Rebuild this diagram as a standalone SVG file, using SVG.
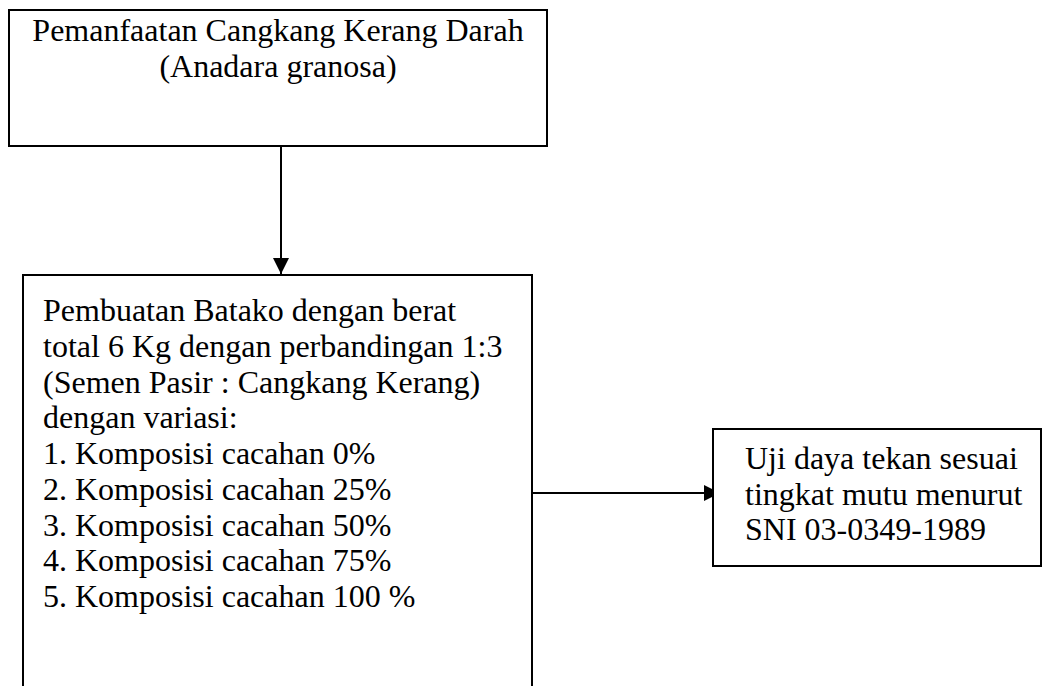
<svg xmlns="http://www.w3.org/2000/svg" width="1043" height="686" viewBox="0 0 1043 686">
<style>
.box{fill:#fff;stroke:#000;stroke-width:2}
.t{font-family:"Liberation Serif","Times New Roman",serif;font-size:32px;fill:#000}
.c{text-anchor:middle}
.ln{stroke:#000;stroke-width:2;fill:none}
</style>
<defs>
<marker id="ah" markerUnits="userSpaceOnUse" markerWidth="16" markerHeight="16" refX="16" refY="8" orient="auto">
<path d="M0,0 L16,8 L0,16 Z" fill="#000"/>
</marker>
</defs>
<rect width="1043" height="686" fill="#fff"/>
<g id="connectors">
<line class="ln" x1="281" y1="146" x2="281" y2="274" marker-end="url(#ah)"/>
<line class="ln" x1="532" y1="493" x2="720" y2="493" marker-end="url(#ah)"/>
</g>
<g id="node-top">
<rect class="box" x="9" y="10" width="538" height="136"/>
<text class="t c" x="278" y="41">Pemanfaatan Cangkang Kerang Darah</text>
<text class="t c" x="278" y="77">(Anadara granosa)</text>
</g>
<g id="node-batako">
<rect class="box" x="23" y="275" width="509" height="430"/>
<text class="t" x="43" y="321">Pembuatan Batako dengan berat</text>
<text class="t" x="43" y="356.75">total 6 Kg dengan perbandingan 1:3</text>
<text class="t" x="43" y="392.5">(Semen Pasir : Cangkang Kerang)</text>
<text class="t" x="43" y="428.25">dengan variasi:</text>
<text class="t" x="43" y="464">1. Komposisi cacahan 0%</text>
<text class="t" x="43" y="499.75">2. Komposisi cacahan 25%</text>
<text class="t" x="43" y="535.5">3. Komposisi cacahan 50%</text>
<text class="t" x="43" y="571.25">4. Komposisi cacahan 75%</text>
<text class="t" x="43" y="607">5. Komposisi cacahan 100 %</text>
</g>
<g id="node-uji">
<rect class="box" x="713" y="429" width="328" height="137"/>
<text class="t" x="745" y="469">Uji daya tekan sesuai</text>
<text class="t" x="745" y="505">tingkat mutu menurut</text>
<text class="t" x="745" y="540">SNI 03-0349-1989</text>
</g>
</svg>
